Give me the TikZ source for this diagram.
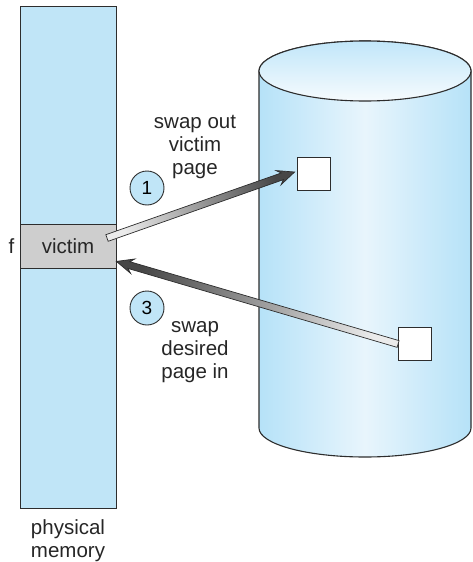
\documentclass[tikz,border=0pt]{standalone}
\usepackage{fontspec}
\setmainfont{Liberation Sans}
\usetikzlibrary{calc,positioning}
\definecolor{memBlue}{RGB}{192,229,247}
\definecolor{cylEdge}{RGB}{182,226,248}
\definecolor{cylMid}{RGB}{232,245,252}
\definecolor{victimGray}{RGB}{206,206,206}
\definecolor{lineGray}{RGB}{45,45,45}
\begin{document}
\begin{tikzpicture}[x=1pt,y=1pt]
%styles des noeuds
\tikzstyle{memBox}=[rectangle, draw=lineGray, line width=0.8pt, fill=memBlue, inner sep=0pt]
\tikzstyle{pageBox}=[rectangle, draw=lineGray, line width=0.8pt, fill=white, minimum size=33pt, inner sep=0pt]
\tikzstyle{stepNum}=[circle, draw=lineGray, line width=0.9pt, fill=memBlue, minimum size=34pt, inner sep=0pt, font=\fontsize{19}{23}\selectfont]
\tikzstyle{textw}=[rectangle, text=black!85, align=center, inner sep=0pt, font=\fontsize{20.5}{23}\selectfont]
\tikzstyle{fatArrow}=[draw=lineGray, line width=0.7pt, line join=miter]
\useasboundingbox (0,0) rectangle (472,-562);
%figure
\path[draw=lineGray, line width=1.1pt, left color=cylEdge, right color=cylEdge, middle color=cylMid]
  (259,-71) -- (259,-428) arc[start angle=180, end angle=360, x radius=106, y radius=29]
  -- (471,-71) arc[start angle=0, end angle=180, x radius=106, y radius=30] -- cycle;
\path[draw=lineGray, line width=1.1pt, top color=cylEdge!85, bottom color=cylMid!40]
  (365,-71) ellipse[x radius=106, y radius=30];
%nodes
\node[memBox, minimum width=96pt, minimum height=502pt] (mem) at (68,-257) {};
\node[memBox, fill=victimGray, minimum width=96pt, minimum height=44pt, textw] (victim) at (68,-246) {victim};
\node[textw, left=5pt of victim.west, anchor=east] (f) {f};
\node[pageBox] (sq1) at (313.5,-174) {};
\node[pageBox] (sq3) at (415,-344) {};
\node[stepNum] (c1) at (147,-188) {1};
\node[stepNum] (c3) at (147,-308) {3};
%text
\node[textw] (outTxt) at (195,-147) {swap out\\victim\\page};
\node[textw] (inTxt) at (195,-352) {swap\\desired\\page in};
\node[textw] (memTxt) at (68,-541) {physical\\memory};
%vecteur
\coordinate (s1) at (107,-238);
\coordinate (t1) at ($(sq1.west)+(-2,2)$);
\coordinate (h1) at ($(t1)!13pt!(s1)$);
\coordinate (b1) at ($(t1)!17pt!(s1)$);
\path[fatArrow, left color=black!8, right color=black!72, shading angle=109]
  ($(s1)!3.5pt!90:(t1)$) -- ($(h1)!3.5pt!90:(t1)$) -- ($(b1)!7.5pt!90:(t1)$) -- (t1)
  -- ($(b1)!7.5pt!-90:(t1)$) -- ($(h1)!3.5pt!-90:(t1)$) -- ($(s1)!3.5pt!-90:(t1)$) -- cycle;
\coordinate (s3) at (sq3.west);
\coordinate (t3) at ($(victim.south east)+(0,7)$);
\coordinate (h3) at ($(t3)!13pt!(s3)$);
\coordinate (b3) at ($(t3)!17pt!(s3)$);
\path[fatArrow, left color=black!8, right color=black!72, shading angle=254]
  ($(s3)!3.5pt!90:(t3)$) -- ($(h3)!3.5pt!90:(t3)$) -- ($(b3)!7.5pt!90:(t3)$) -- (t3)
  -- ($(b3)!7.5pt!-90:(t3)$) -- ($(h3)!3.5pt!-90:(t3)$) -- ($(s3)!3.5pt!-90:(t3)$) -- cycle;
\end{tikzpicture}
\end{document}
